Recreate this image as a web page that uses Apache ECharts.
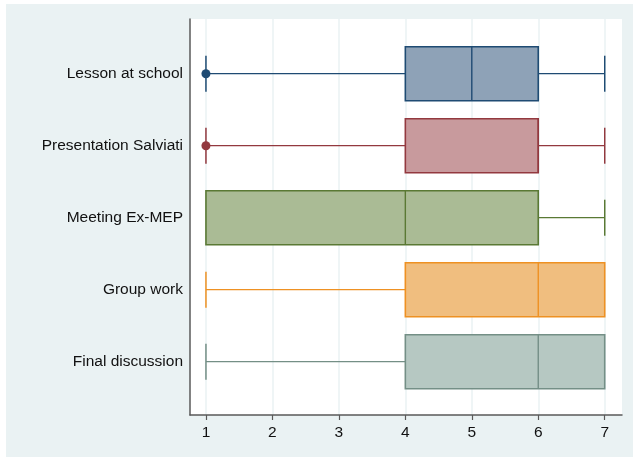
<!DOCTYPE html>
<html>
<head>
<meta charset="utf-8">
<script src="https://cdn.jsdelivr.net/npm/echarts@6/dist/echarts.min.js"></script>
<style>
  html, body { margin: 0; padding: 0; background: #ffffff; }
  #frame { position: absolute; left: 6px; top: 4px; width: 627px; height: 453px; background: #eaf2f3; }
  #chart { position: absolute; left: 0; top: 0; width: 633px; height: 457px; }
</style>
</head>
<body>
<div id="frame"></div>
<div id="chart"></div>
<script>
// Ratings per activity (scale 1-7): whiskers, quartiles and medians
const categories = ['Lesson at school', 'Presentation Salviati', 'Meeting Ex-MEP', 'Group work', 'Final discussion'];
const whiskerLow = [1, 1, 1, 1, 1];
const quartile1 = [4, 4, 1, 4, 4];
const medians = [5, 6, 4, 6, 6];
const quartile3 = [6, 6, 6, 7, 7];
const whiskerHigh = [7, 7, 7, 7, 7];
// outside values: [rating, activity index]
const outliers = [[1, 0], [1, 1]];
const xTicks = [1, 2, 3, 4, 5, 6, 7];

const palette = [
  { line: '#1f4b73', fill: '#8ea2b7' },
  { line: '#93393f', fill: '#c89a9d' },
  { line: '#5a7934', fill: '#aabb95' },
  { line: '#ee9123', fill: '#f0be7f' },
  { line: '#748f86', fill: '#b6c8c2' }
];

const boxData = categories.map((_, i) => [i, whiskerLow[i], quartile1[i], medians[i], quartile3[i], whiskerHigh[i]]);

function renderBox(params, api) {
  const i = api.value(0);
  const lo = api.value(1), q1 = api.value(2), md = api.value(3), q3 = api.value(4), hi = api.value(5);
  const c = palette[i];
  const band = api.size([0, 1])[1];
  const boxHalf = band * 0.375;
  const capHalf = band * 0.25;
  const y = api.coord([q1, i])[1];
  const xLo = api.coord([lo, i])[0];
  const xQ1 = api.coord([q1, i])[0];
  const xMd = api.coord([md, i])[0];
  const xQ3 = api.coord([q3, i])[0];
  const xHi = api.coord([hi, i])[0];
  const whisker = { stroke: c.line, lineWidth: 1.3 };
  const children = [];
  if (lo < q1) {
    children.push({ type: 'line', shape: { x1: xLo, y1: y, x2: xQ1, y2: y }, style: whisker });
    children.push({ type: 'line', shape: { x1: xLo, y1: y - capHalf, x2: xLo, y2: y + capHalf }, style: { stroke: c.line, lineWidth: 1.5 } });
  }
  if (hi > q3) {
    children.push({ type: 'line', shape: { x1: xQ3, y1: y, x2: xHi, y2: y }, style: whisker });
    children.push({ type: 'line', shape: { x1: xHi, y1: y - capHalf, x2: xHi, y2: y + capHalf }, style: { stroke: c.line, lineWidth: 1.5 } });
  }
  children.push({
    type: 'rect',
    shape: { x: xQ1, y: y - boxHalf, width: xQ3 - xQ1, height: boxHalf * 2 },
    style: { fill: c.fill, stroke: c.line, lineWidth: 1.6 }
  });
  children.push({ type: 'line', shape: { x1: xMd, y1: y - boxHalf, x2: xMd, y2: y + boxHalf }, style: { stroke: c.line, lineWidth: 1.4 } });
  return { type: 'group', children };
}

const chart = echarts.init(document.getElementById('chart'), null, { renderer: 'canvas' });
chart.setOption({
  animation: false,
  backgroundColor: 'transparent',
  textStyle: { fontFamily: 'Liberation Sans, Arial, sans-serif' },
  grid: {
    left: 190, right: 11, top: 19, bottom: 42,
    show: true, backgroundColor: '#ffffff', borderWidth: 0
  },
  xAxis: {
    type: 'value',
    min: 0.76, max: 7.26,
    axisLine: { show: true, onZero: false, lineStyle: { color: '#5a5a5a', width: 1.5 } },
    axisTick: { show: true, length: 5, customValues: xTicks, lineStyle: { color: '#5a5a5a', width: 1.2 } },
    axisLabel: { customValues: xTicks, color: '#111', fontSize: 15.5, margin: 10 },
    splitLine: { show: true, lineStyle: { color: '#eaf2f3', width: 1.5 } }
  },
  yAxis: {
    type: 'value',
    inverse: true,
    min: -0.76, max: 4.74,
    axisLine: { show: true, onZero: false, lineStyle: { color: '#5a5a5a', width: 1.5 } },
    axisTick: { show: false, customValues: [0, 1, 2, 3, 4] },
    axisLabel: {
      customValues: [0, 1, 2, 3, 4],
      formatter: v => categories[Math.round(v)],
      color: '#111', fontSize: 15.5, margin: 7
    },
    splitLine: { show: false }
  },
  series: [
    {
      type: 'custom',
      renderItem: renderBox,
      encode: { x: [1, 2, 3, 4, 5], y: 0 },
      data: boxData,
      z: 2
    },
    {
      type: 'scatter',
      data: outliers,
      symbol: 'circle',
      symbolSize: 9,
      itemStyle: { color: p => palette[p.value[1]].line, opacity: 1 },
      z: 3
    }
  ]
});
</script>
</body>
</html>
